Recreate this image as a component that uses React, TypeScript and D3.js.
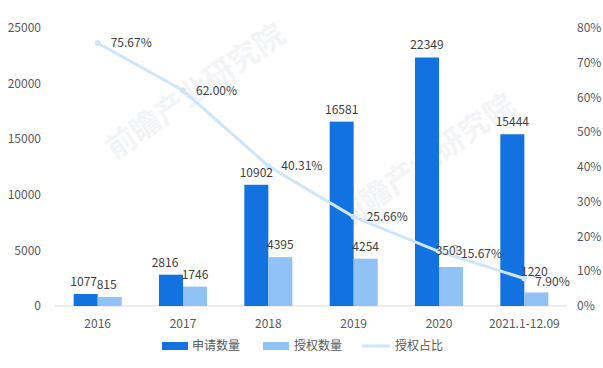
import * as d3 from 'd3';

const categories = ['2016', '2017', '2018', '2019', '2020', '2021.1-12.09'];
const applyCounts = [1077, 2816, 10902, 16581, 22349, 15444];
const grantCounts = [815, 1746, 4395, 4254, 3503, 1220];
const grantRatio = [75.67, 62.0, 40.31, 25.66, 15.67, 7.9];
const leftTicks = [0, 5000, 10000, 15000, 20000, 25000];
const rightTicks = [0, 10, 20, 30, 40, 50, 60, 70, 80];
const legendNames = ['申请数量', '授权数量', '授权占比'];

const W = 603;
const H = 368;
const margin = { top: 28, right: 36, bottom: 62, left: 55 };
const DARK = '#1272e0';
const LIGHT = '#90c2f6';
const LINE = '#cde6fa';
const FONT = '"Noto Sans CJK SC", "Noto Sans", sans-serif';

export default function App() {
  const x = d3
    .scaleBand()
    .domain(categories)
    .range([margin.left, W - margin.right]);
  const y = d3.scaleLinear().domain([0, 25000]).range([H - margin.bottom, margin.top]);
  const y2 = d3.scaleLinear().domain([0, 80]).range([H - margin.bottom, margin.top]);
  const barW = 24;
  const cx = (c) => x(c) + x.bandwidth() / 2;

  const line = d3
    .line()
    .x((d, i) => cx(categories[i]))
    .y((d) => y2(d));

  const base = y(0);

  return (
    <svg
      width={W}
      height={H}
      style={{ position: 'absolute', left: 0, top: 0, background: '#fff' }}
      fontFamily={FONT}
    >
      {/* faint watermarks */}
      <g fill="#f3f4f6" fontSize="30" fontWeight="bold">
        <text transform="translate(115,160) rotate(-35)">前瞻产业研究院</text>
        <text transform="translate(345,230) rotate(-35)">前瞻产业研究院</text>
      </g>

      <line x1={margin.left} x2={W - margin.right} y1={base} y2={base} stroke="#d9d9d9" />

      {leftTicks.map((t) => (
        <text key={t} x={41} y={y(t)} dy="0.35em" textAnchor="end" fontSize="12" fill="#595959">
          {t}
        </text>
      ))}
      {rightTicks.map((t) => (
        <text key={t} x={577} y={y2(t)} dy="0.35em" fontSize="12" fill="#595959">
          {t + '%'}
        </text>
      ))}
      {categories.map((c) => (
        <text key={c} x={cx(c)} y={base + 22} textAnchor="middle" fontSize="12" fill="#595959">
          {c}
        </text>
      ))}

      {categories.map((c, i) => (
        <g key={c}>
          <rect x={cx(c) - barW} y={y(applyCounts[i])} width={barW} height={base - y(applyCounts[i])} fill={DARK} />
          <rect x={cx(c)} y={y(grantCounts[i])} width={barW} height={base - y(grantCounts[i])} fill={LIGHT} />
        </g>
      ))}

      <path d={line(grantRatio)} fill="none" stroke={LINE} strokeWidth={3} />
      {grantRatio.map((v, i) => (
        <circle key={i} cx={cx(categories[i])} cy={y2(v)} r={3} fill={LINE} />
      ))}

      {/* leader lines for crowded labels */}
      <path d={`M${cx(categories[4]) + 14},${y2(15.67) - 6} h4 v10`} fill="none" stroke="#a6a6a6" strokeWidth={0.8} />
      <path d={`M${cx(categories[5]) + 8},${y2(7.9) - 2} h4`} fill="none" stroke="#a6a6a6" strokeWidth={0.8} />

      <g fontSize="12" fill="#404040">
        {applyCounts.map((v, i) => (
          <text
            key={'a' + i}
            x={cx(categories[i]) - barW / 2 + (i === 0 ? -2 : i === 1 ? -6 : 0)}
            y={y(v) - 8}
            textAnchor="middle"
          >
            {v}
          </text>
        ))}
        {grantCounts.map((v, i) => (
          <text
            key={'g' + i}
            x={cx(categories[i]) + barW / 2 + (i === 0 ? -3 : i >= 4 ? -2 : 0)}
            y={y(v) - (i === 5 ? 16 : i === 4 ? 12 : 8)}
            textAnchor="middle"
          >
            {v}
          </text>
        ))}
        {grantRatio.map((v, i) => (
          <text
            key={'r' + i}
            x={cx(categories[i]) + (i === 4 ? 22 : i === 5 ? 11 : 13)}
            y={y2(v) + (i === 4 ? 2 : i === 5 ? 3 : 0)}
            dy="0.35em"
          >
            {v.toFixed(2) + '%'}
          </text>
        ))}
      </g>

      <g fontSize="12" fill="#595959">
        <rect x={162} y={342} width={26} height={8} fill={DARK} />
        <text x={192} y={346} dy="0.35em">{legendNames[0]}</text>
        <rect x={263} y={342} width={26} height={8} fill={LIGHT} />
        <text x={294} y={346} dy="0.35em">{legendNames[1]}</text>
        <line x1={362} x2={390} y1={346} y2={346} stroke={LINE} strokeWidth={3} />
        <text x={395} y={346} dy="0.35em">{legendNames[2]}</text>
      </g>
    </svg>
  );
}
